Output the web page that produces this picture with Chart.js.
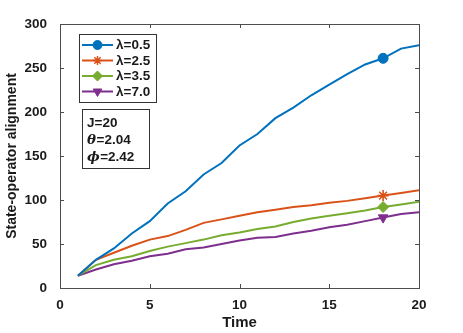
<!DOCTYPE html>
<html>
<head>
<meta charset="utf-8">
<script src="https://cdn.jsdelivr.net/npm/chart.js@4"></script>
<style>
html,body{margin:0;padding:0;background:#fff;}
#wrap{width:463px;height:333px;position:relative;}
</style>
</head>
<body>
<div id="wrap"><canvas id="c" width="463" height="333"></canvas></div>
<script>
const times = [1,2,3,4,5,6,7,8,9,10,11,12,13,14,15,16,17,18,19,20];
const lambda05 = [14,32,45,62,76,96,110,129,142,162,175,193,205,219,231,243,254,261,272,276];
const lambda25 = [14,32,40,48,55,59,66,74,78,82,86,89,92,94,97,99,102,105,108,111];
const lambda35 = [14,26,32,36,42,47,51,55,60,63,67,70,75,79,82,85,88,92,95,98];
const lambda70 = [14,21,27,31,36,39,44,46,50,54,57,58,62,65,69,72,76,80,84,86];
const seriesLabels = ['\u03bb=0.5','\u03bb=2.5','\u03bb=3.5','\u03bb=7.0'];
const xTicks = [0,5,10,15,20];
const yTicks = [0,50,100,150,200,250,300];
const paramLines = ['J=20','\u03b8=2.04','\u03d5=2.42'];
const markerIndex = 17;

const colors = ['#0072BD','#D95319','#77AC30','#7E2F8E'];
const styles = ['circle','star','rectRot','triangle'];
const rots = [0,0,0,180];
const radii = [5,5.5,5.5,5.5];
const legRadii = [4.5,4.5,5,5];
const allSeries = [lambda05,lambda25,lambda35,lambda70];

const datasets = allSeries.map((s,i)=>({
  label: seriesLabels[i],
  data: s.map((v,j)=>({x:times[j],y:v})),
  borderColor: colors[i],
  backgroundColor: colors[i],
  borderWidth: 2,
  pointStyle: styles[i],
  pointRotation: rots[i],
  pointRadius: ctx => ctx.dataIndex===markerIndex ? radii[i] : 0,
  pointBorderWidth: i===1 ? 1.6 : 1,
  pointBorderColor: colors[i],
  pointBackgroundColor: colors[i],
  tension: 0,
  fill: false
}));

const FONT = '"Liberation Sans", Arial, Helvetica, sans-serif';
const AXC = '#4d4d4d';

const decor = {
  id:'decor',
  afterDatasetsDraw(chart){
    const ctx = chart.ctx, a = chart.chartArea;
    const xs = chart.scales.x, ys = chart.scales.y;
    ctx.save();
    ctx.strokeStyle = AXC; ctx.lineWidth = 1;
    ctx.strokeRect(Math.round(a.left)+0.5, Math.round(a.top)+0.5, Math.round(a.right-a.left), Math.round(a.bottom-a.top));
    const tl = 4;
    ctx.beginPath();
    xTicks.forEach(v=>{
      const px = Math.round(xs.getPixelForValue(v))+0.5;
      ctx.moveTo(px, a.bottom); ctx.lineTo(px, a.bottom-tl);
      ctx.moveTo(px, a.top); ctx.lineTo(px, a.top+tl);
    });
    yTicks.forEach(v=>{
      const py = Math.round(ys.getPixelForValue(v))+0.5;
      ctx.moveTo(a.left, py); ctx.lineTo(a.left+tl, py);
      ctx.moveTo(a.right, py); ctx.lineTo(a.right-tl, py);
    });
    ctx.stroke();

    // legend box
    const lx = 79, ly = 34, lw = 77, lh = 68;
    ctx.fillStyle = '#fff';
    ctx.fillRect(lx, ly, lw, lh);
    ctx.strokeStyle = '#333'; ctx.lineWidth = 1;
    ctx.strokeRect(lx+0.5, ly+0.5, lw, lh);
    const rowY = [45, 60.5, 76, 91.5];
    chart.data.datasets.forEach((ds,i)=>{
      const y = rowY[i];
      ctx.strokeStyle = ds.borderColor; ctx.lineWidth = 2;
      ctx.beginPath(); ctx.moveTo(82, y); ctx.lineTo(113, y); ctx.stroke();
      ctx.fillStyle = ds.backgroundColor;
      ctx.strokeStyle = ds.borderColor;
      ctx.lineWidth = i===1?1.5:1;
      Chart.helpers.drawPoint(ctx, {pointStyle: ds.pointStyle, rotation: ds.pointRotation, radius: legRadii[i], borderWidth: i===1?1.5:1}, 97.5, y);
      ctx.fillStyle = '#1a1a1a';
      ctx.font = 'bold 13.5px ' + FONT;
      ctx.textBaseline = 'middle'; ctx.textAlign = 'left';
      ctx.fillText(ds.label, 116, y+0.5);
    });

    // parameter box
    const bx = 82, by = 109, bw = 67, bh = 59;
    ctx.fillStyle = '#fff';
    ctx.fillRect(bx, by, bw, bh);
    ctx.strokeStyle = '#333'; ctx.lineWidth = 1;
    ctx.strokeRect(bx+0.5, by+0.5, bw, bh);
    ctx.fillStyle = '#1a1a1a';
    ctx.textBaseline = 'middle'; ctx.textAlign = 'left';
    const py = [123, 140, 157];
    paramLines.forEach((t,i)=>{
      if (i===0){ ctx.font = 'bold 13.5px ' + FONT; ctx.fillText(t, 87, py[i]); }
      else {
        const sym = t.charAt(0), rest = t.slice(1);
        ctx.font = 'italic bold 13.5px "DejaVu Serif", "Liberation Serif", serif';
        ctx.fillText(sym, 87, py[i]);
        const w = ctx.measureText(sym).width;
        ctx.font = 'bold 13.5px ' + FONT;
        ctx.fillText(rest, 87 + w + 0.5, py[i]);
      }
    });
    ctx.restore();
  }
};

new Chart(document.getElementById('c'), {
  type: 'line',
  data: { datasets },
  options: {
    responsive: false,
    animation: false,
    devicePixelRatio: 1,
    layout: { padding: { top: 24, right: 44, left: 0, bottom: 0 } },
    plugins: { legend: { display: false }, tooltip: { enabled: false } },
    scales: {
      x: {
        type: 'linear', min: 0, max: 20,
        afterFit: s => { s.height = 45; },
        afterBuildTicks: s => { s.ticks = xTicks.map(v=>({value:v})); },
        grid: { display: false, drawTicks: false },
        border: { display: false },
        ticks: { color: '#1a1a1a', font: { family: FONT, size: 13.5, weight: 'bold' }, padding: 9, maxRotation: 0 },
        title: { display: true, text: 'Time', color: '#1a1a1a', font: { family: FONT, size: 15, weight: 'bold' }, padding: { top: 0, bottom: 1 } }
      },
      y: {
        type: 'linear', min: 0, max: 300,
        afterFit: s => { s.width = 60; },
        afterBuildTicks: s => { s.ticks = yTicks.map(v=>({value:v})); },
        grid: { display: false, drawTicks: false },
        border: { display: false },
        ticks: { color: '#1a1a1a', font: { family: FONT, size: 13.5, weight: 'bold' }, padding: 13 },
        title: { display: true, text: 'State-operator alignment', color: '#1a1a1a', font: { family: FONT, size: 14, weight: 'bold' }, padding: { top: 4, bottom: 0 } }
      }
    }
  },
  plugins: [decor]
});
</script>
</body>
</html>
